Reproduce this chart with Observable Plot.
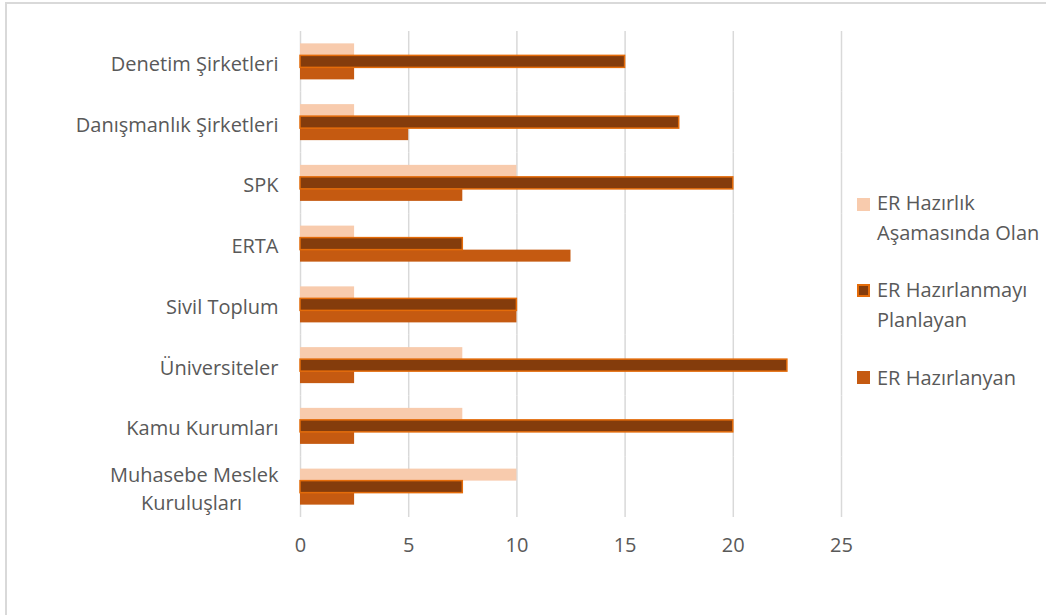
<!DOCTYPE html>
<html>
<head>
<meta charset="utf-8">
<script src="https://cdn.jsdelivr.net/npm/d3@7"></script>
<script src="https://cdn.jsdelivr.net/npm/@observablehq/plot@0.6"></script>
<style>
  html, body { margin: 0; padding: 0; background: #fff; overflow: hidden; }
  #wrap { position: relative; width: 1046px; height: 615px; overflow: hidden; }
  #frame { position: absolute; left: 5px; top: 2px; width: 1200px; height: 800px;
           border-left: 2px solid #d9d9d9; border-top: 2px solid #d9d9d9; pointer-events: none; }
  #chart { position: absolute; left: 0; top: 0; }
  #legend { position: absolute; left: 857px; top: 0; width: 189px; font-family: "Open Sans", sans-serif;
            font-size: 20px; color: #595959; }
  .sw { position: absolute; left: 0; width: 13px; height: 13px; box-sizing: border-box; }
  .lbl { position: absolute; left: 20px; line-height: 30px; white-space: nowrap; }
</style>
</head>
<body>
<div id="wrap">
  <div id="chart"></div>
  <div id="legend"></div>
  <div id="frame"></div>
</div>
<script>
const categories = ["Denetim Şirketleri", "Danışmanlık Şirketleri", "SPK", "ERTA", "Sivil Toplum", "Üniversiteler", "Kamu Kurumları", "Muhasebe Meslek Kuruluşları"];
const categoryLabels = ["Denetim Şirketleri", "Danışmanlık Şirketleri", "SPK", "ERTA", "Sivil Toplum", "Üniversiteler", "Kamu Kurumları", "Muhasebe Meslek\nKuruluşları\u00a0\u00a0\u00a0\u00a0\u00a0\u00a0\u00a0"];
const series = ["ER Hazırlık Aşamasında Olan", "ER Hazırlanmayı Planlayan", "ER Hazırlanyan"];
const legendLines = [["ER Hazırlık", "Aşamasında Olan"], ["ER Hazırlanmayı", "Planlayan"], ["ER Hazırlanyan"]];
const hazirlikValues = [2.5, 2.5, 10, 2.5, 2.5, 7.5, 7.5, 10];
const planlayanValues = [15, 17.5, 20, 7.5, 10, 22.5, 20, 7.5];
const hazirlanyanValues = [2.5, 5, 7.5, 12.5, 10, 2.5, 2.5, 2.5];
const xTicks = [0, 5, 10, 15, 20, 25];
const colors = ["#F8CBAD", "#843C0C", "#C55A11"];
const strokes = ["none", "#E46C0A", "none"];

const valueSets = [hazirlikValues, planlayanValues, hazirlanyanValues];
const data = [];
categories.forEach((c, i) => {
  series.forEach((s, j) => data.push({category: c, series: s, value: valueSets[j][i]}));
});
const labelOf = new Map(categories.map((c, i) => [c, categoryLabels[i]]));

const font = "'Open Sans', sans-serif";
const chart = Plot.plot({
  width: 1046,
  height: 615,
  marginLeft: 300,
  marginRight: 205,
  marginTop: 31,
  marginBottom: 98,
  style: {fontFamily: font, fontSize: "20px", color: "#595959", background: "transparent", overflow: "visible"},
  x: {domain: [0, 25], ticks: xTicks, label: null},
  fy: {domain: categories, padding: 0, round: false, label: null, axis: null},
  y: {domain: series, paddingInner: 0, paddingOuter: 1.03, round: false, axis: null},
  color: {domain: series, range: colors},
  marks: [
    Plot.gridX(xTicks, {stroke: "#d9d9d9", strokeOpacity: 1, strokeWidth: 1.5}),
    Plot.barX(data.filter(d => d.series !== series[1]), {x: "value", y: "series", fy: "category", fill: "series"}),
    Plot.barX(data.filter(d => d.series === series[1]), {x: "value", y: "series", fy: "category", fill: "series", stroke: strokes[1], strokeWidth: 1.5}),
    Plot.axisX({ticks: xTicks, tickSize: 0, tickPadding: 20, label: null, fill: "#595959", fontSize: 20}),
    Plot.axisFy({anchor: "left", tickSize: 0, tickPadding: 22, label: null, lineHeight: 1.4, fill: "#595959", fontSize: 20,
                 tickFormat: d => labelOf.get(d)})
  ]
});
document.getElementById("chart").appendChild(chart);

// legend
const legend = document.getElementById("legend");
const swTops = [198, 284, 371];
const textTops = [188, 275, 363];
series.forEach((s, j) => {
  const sw = document.createElement("div");
  sw.className = "sw";
  sw.style.top = swTops[j] + "px";
  sw.style.background = colors[j];
  if (strokes[j] !== "none") sw.style.border = "2px solid " + strokes[j];
  legend.appendChild(sw);
  const lbl = document.createElement("div");
  lbl.className = "lbl";
  lbl.style.top = textTops[j] + "px";
  lbl.innerHTML = legendLines[j].join("<br>");
  legend.appendChild(lbl);
});
</script>
</body>
</html>
